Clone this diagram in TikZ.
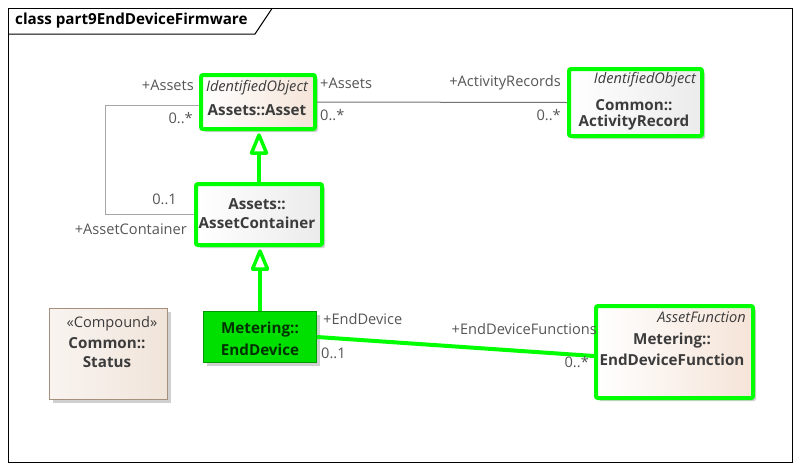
\documentclass[tikz,border=0pt]{standalone}
\usepackage{fontspec}
\setmainfont{Open Sans}
\usetikzlibrary{arrows.meta,shadows}
\definecolor{hl}{HTML}{00FF00}
\definecolor{edfill}{HTML}{00E000}
\definecolor{peach}{HTML}{F5E4D8}
\definecolor{greyend}{HTML}{EBEBEB}
\definecolor{beige}{HTML}{F0E4DA}
\definecolor{txt}{HTML}{3C3C3C}
\definecolor{lbl}{HTML}{555555}
\begin{document}
\begin{tikzpicture}[x=1pt,y=-1pt,
  shd/.style={drop shadow={shadow xshift=3pt,shadow yshift=-3pt,fill=black!30,opacity=0.6}},
  hlbox/.style={draw=hl,line width=4pt,rounded corners=2pt,anchor=north west,inner sep=0pt,shd},
  peachbox/.style={hlbox,left color=white,right color=peach},
  greybox/.style={hlbox,left color=white,right color=greyend},
  lab/.style={text=lbl,font=\fontsize{14.6}{17}\selectfont,inner sep=0pt},
  ster/.style={text=txt,font=\itshape\fontsize{14.6}{17}\selectfont,inner sep=0pt},
  nm/.style={text=txt,font=\bfseries\fontsize{15.2}{18}\selectfont,inner sep=0pt},
  genline/.style={draw=hl,line width=4pt},
  gentip/.style={draw=hl,line width=3.5pt,fill=white,line join=round},
]
\useasboundingbox (0,0) rectangle (801,469);
\fill[white] (0,0) rectangle (801,469);
% frame
\draw[black,line width=1pt] (8.5,8.5) rectangle (792.5,462.5);
\draw[black,line width=1pt] (8.5,34) -- (255,34) -- (272,8.5);
\node[anchor=west,inner sep=0pt,font=\bfseries\fontsize{15.2}{18}\selectfont] (title) at (15,21) {class part9EndDeviceFirmware};

% boxes
\node[peachbox,minimum width=114pt,minimum height=54pt] (asset) at (199,73) {};
\node[greybox,minimum width=133pt,minimum height=67pt] (activity) at (567,67) {};
\node[greybox,minimum width=126pt,minimum height=61pt] (container) at (194,182) {};
\node[draw=hl!60!black,fill=edfill,line width=1pt,anchor=north west,inner sep=0pt,shd,minimum width=113pt,minimum height=51pt] (enddevice) at (203,311) {};
\node[peachbox,minimum width=157pt,minimum height=92pt] (edf) at (594,304) {};
\node[draw=black!45!brown!60,line width=1pt,left color=white!60!beige,right color=beige,anchor=north west,inner sep=0pt,shd,minimum width=118pt,minimum height=91pt] (status) at (49,308) {};

% box texts
\node[ster] (assetst) at (257,88) {IdentifiedObject};
\node[nm] (assetnm) at (257,110) {Assets::Asset};
\node[ster,anchor=east] (actst) at (696,80) {IdentifiedObject};
\node[nm] (actnm1) at (634,105) {Common::};
\node[nm] (actnm2) at (634,123) {ActivityRecord};
\node[nm] (contnm1) at (257,204) {Assets::};
\node[nm] (contnm2) at (257,223) {AssetContainer};
\node[nm,text=black!60!green!50!black] (ednm1) at (260,330) {Metering::};
\node[nm,text=black!60!green!50!black] (ednm2) at (260,350) {EndDevice};
\node[ster,anchor=east] (edfst) at (746,317) {AssetFunction};
\node[nm] (edfnm1) at (672,341) {Metering::};
\node[nm] (edfnm2) at (672,360) {EndDeviceFunction};
\node[lab,text=txt] (stst) at (112,324) {«Compound»};
\node[nm] (stnm1) at (107,343) {Common::};
\node[nm] (stnm2) at (107,362) {Status};

% connectors
\draw[black!35,line width=1pt] ([yshift=-3pt]asset.west) -- ++(-94,0) |- (container.west);
\draw[black!55,line width=1pt] (asset.east) -- (activity.west);
\draw[hl,line width=4pt] (enddevice.east) -- ([yshift=-4pt]edf.west);

\coordinate (t1) at ([yshift=-4pt]container.north |- asset.south);
\draw[genline] (container.north) -- ([yshift=-18pt]t1);
\draw[gentip] (t1) -- ++(-7.5,18) -- ++(15,0) -- cycle;

\coordinate (t2) at ([yshift=-4pt]enddevice.north |- container.south);
\draw[genline] (enddevice.north) -- ([yshift=-18pt]t2);
\draw[gentip] (t2) -- ++(-7.5,18) -- ++(15,0) -- cycle;

% labels
\node[lab,anchor=east] (l1) at (194,85) {+Assets};
\node[lab,anchor=east] (l2) at (193,118) {0..*};
\node[lab,anchor=east] (l3) at (177,199) {0..1};
\node[lab,anchor=east] (l4) at (187,229) {+AssetContainer};
\node[lab,anchor=west] (l5) at (320,83) {+Assets};
\node[lab,anchor=west] (l6) at (320,115) {0..*};
\node[lab,anchor=east] (l7) at (561,83) {+ActivityRecords};
\node[lab,anchor=east] (l8) at (561,115) {0..*};
\node[lab,anchor=west] (l9) at (323,319) {+EndDevice};
\node[lab,anchor=west] (l10) at (321,353) {0..1};
\node[lab,anchor=east] (l11) at (597,329) {+EndDeviceFunctions};
\node[lab,anchor=east] (l12) at (589,362) {0..*};
\end{tikzpicture}
\end{document}
